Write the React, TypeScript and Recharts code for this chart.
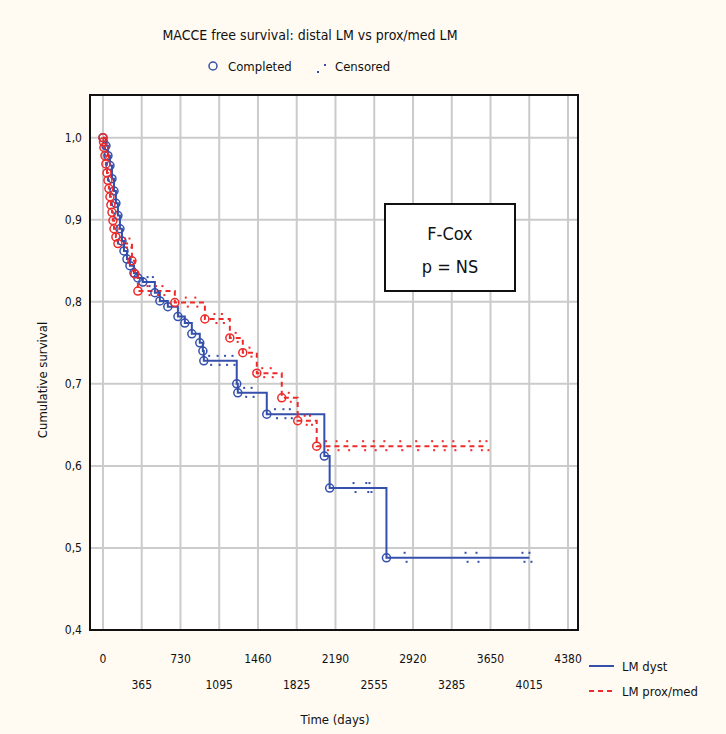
import React from 'react';
import { ComposedChart, Line, XAxis, YAxis, CartesianGrid } from 'recharts';

// LM dyst (blue): time in days, survival, marker kind (1 = completed/event, 0 = censored)
const dystTime = [0, 28, 47, 66, 85, 104, 122, 141, 160, 179, 198, 226, 254, 292, 329, 376, 420, 470, 489, 536, 611, 706, 771, 837, 912, 941, 950, 1000, 1080, 1150, 1220, 1260, 1270, 1330, 1400, 1543, 1620, 1700, 1760, 2085, 2135, 2360, 2480, 2510, 2670, 2841, 3415, 3518, 3951, 4017];
const dystSurv = [1.0, 0.99, 0.978, 0.966, 0.95, 0.935, 0.92, 0.905, 0.889, 0.874, 0.862, 0.852, 0.844, 0.835, 0.829, 0.824, 0.824, 0.824, 0.811, 0.801, 0.794, 0.782, 0.774, 0.761, 0.75, 0.74, 0.728, 0.728, 0.728, 0.728, 0.728, 0.7, 0.689, 0.689, 0.689, 0.663, 0.663, 0.663, 0.663, 0.612, 0.573, 0.573, 0.573, 0.573, 0.488, 0.488, 0.488, 0.488, 0.488, 0.488];
const dystKind = [1, 1, 1, 1, 1, 1, 1, 1, 1, 1, 1, 1, 1, 1, 1, 1, 0, 0, 1, 1, 1, 1, 1, 1, 1, 1, 1, 0, 0, 0, 0, 1, 1, 0, 0, 1, 0, 0, 0, 1, 1, 0, 0, 0, 1, 0, 0, 0, 0, 0];

// LM prox/med (red)
const proxTime = [0, 5, 9, 19, 28, 38, 47, 56, 66, 75, 85, 94, 104, 122, 141, 207, 250, 273, 301, 329, 420, 500, 560, 677, 780, 870, 960, 1050, 1120, 1195, 1250, 1317, 1380, 1449, 1500, 1580, 1684, 1750, 1834, 1900, 1950, 2013, 2100, 2200, 2300, 2450, 2550, 2650, 2800, 2950, 3100, 3200, 3300, 3450, 3550, 3612];
const proxSurv = [1.0, 0.995, 0.988, 0.978, 0.968, 0.957, 0.948, 0.938, 0.928, 0.918, 0.909, 0.899, 0.889, 0.879, 0.871, 0.871, 0.871, 0.85, 0.834, 0.813, 0.813, 0.813, 0.813, 0.799, 0.799, 0.799, 0.779, 0.779, 0.779, 0.756, 0.756, 0.738, 0.738, 0.713, 0.713, 0.713, 0.683, 0.683, 0.655, 0.655, 0.655, 0.624, 0.624, 0.624, 0.624, 0.624, 0.624, 0.624, 0.624, 0.624, 0.624, 0.624, 0.624, 0.624, 0.624, 0.624];
const proxKind = [1, 1, 1, 1, 1, 1, 1, 1, 1, 1, 1, 1, 1, 1, 1, 0, 0, 1, 1, 1, 0, 0, 0, 1, 0, 0, 1, 0, 0, 1, 0, 1, 0, 1, 0, 0, 1, 0, 1, 0, 0, 1, 0, 0, 0, 0, 0, 0, 0, 0, 0, 0, 0, 0, 0, 0];

const xTicks = [0, 365, 730, 1095, 1460, 1825, 2190, 2555, 2920, 3285, 3650, 4015, 4380];
const yTicks = [0.4, 0.5, 0.6, 0.7, 0.8, 0.9, 1.0];

const titleText = 'MACCE free survival: distal LM vs prox/med LM';
const seriesNames = ['LM dyst', 'LM prox/med'];

const BLUE = '#3450AC';
const RED = '#EE2A2A';
const FONT = '"Liberation Sans Narrow", "DejaVu Sans Condensed", "Arial Narrow", sans-serif';

const build = (t: number[], s: number[], k: number[]) => t.map((v, i) => ({ t: v, s: s[i], k: k[i] }));
const dystData = build(dystTime, dystSurv, dystKind);
const proxData = build(proxTime, proxSurv, proxKind);

const makeDot = (color: string) => (props: any) => {
  const { cx, cy, payload, index } = props;
  if (cx == null || cy == null || !payload) return <g key={`d${index}`} />;
  if (payload.k === 1) {
    return <circle key={`d${index}`} cx={cx} cy={cy} r={4} fill="none" stroke={color} strokeWidth={1.5} />;
  }
  return (
    <g key={`d${index}`}>
      <rect x={cx - 1} y={cy - 6} width={2} height={2} fill={color} />
      <rect x={cx + 1} y={cy + 3} width={2} height={2} fill={color} />
    </g>
  );
};

const XTick = (props: any) => {
  const { x, y, payload, index } = props;
  const row = index % 2 === 0 ? 0 : 1;
  return (
    <text x={x} y={y + (row === 0 ? 31 : 57)} textAnchor="middle" fontSize={12} fontFamily={FONT} fill="#111">
      {payload.value}
    </text>
  );
};

export default function App() {
  return (
    <div style={{ position: 'absolute', left: 0, top: 0, width: 726, height: 734, background: '#FFFBF3', overflow: 'hidden' }}>
      <ComposedChart
        width={726}
        height={734}
        margin={{ top: 95, right: 148, left: 0, bottom: 0 }}
      >
        <CartesianGrid stroke="#cbcbcb" strokeWidth={2} fill="#ffffff" />
        <XAxis
          type="number"
          dataKey="t"
          domain={[-122, 4474]}
          ticks={xTicks}
          allowDataOverflow
          height={104}
          axisLine={false}
          tickLine={false}
          tickSize={0}
          interval={0}
          tick={<XTick />}
        />
        <YAxis
          type="number"
          domain={[0.4, 1.052]}
          ticks={yTicks}
          allowDataOverflow
          width={90}
          axisLine={false}
          tickLine={false}
          tickSize={0}
          tickMargin={8}
          interval={0}
          tickFormatter={(v: number) => v.toFixed(1).replace('.', ',')}
          tick={{ fontSize: 12, fontFamily: FONT, fill: '#111' }}
        />
        <Line
          data={dystData}
          dataKey="s"
          type="stepAfter"
          stroke={BLUE}
          strokeWidth={2}
          dot={makeDot(BLUE)}
          activeDot={false}
          isAnimationActive={false}
          name={seriesNames[0]}
        />
        <Line
          data={proxData}
          dataKey="s"
          type="stepAfter"
          stroke={RED}
          strokeWidth={2}
          strokeDasharray="5 4"
          dot={makeDot(RED)}
          activeDot={false}
          isAnimationActive={false}
          name={seriesNames[1]}
        />
      </ComposedChart>
      <svg width={726} height={734} style={{ position: 'absolute', left: 0, top: 0, pointerEvents: 'none' }}>
        <rect x={90} y={95} width={488} height={535} fill="none" stroke="#111" strokeWidth={2} />
        <text x={310} y={40} textAnchor="middle" fontSize={14} fontFamily={FONT} fill="#111">{titleText}</text>
        <circle cx={213} cy={66} r={4} fill="none" stroke={BLUE} strokeWidth={1.5} />
        <text x={228} y={71} fontSize={13} fontFamily={FONT} fill="#111">Completed</text>
        <rect x={317} y={71} width={2} height={2} fill={BLUE} />
        <rect x={324} y={64} width={2} height={2} fill={BLUE} />
        <text x={335} y={71} fontSize={13} fontFamily={FONT} fill="#111">Censored</text>
        <rect x={385} y={204} width={130} height={87} fill="#fff" stroke="#111" strokeWidth={2} />
        <text x={450} y={240} textAnchor="middle" fontSize={18} fontFamily={FONT} fill="#111">F-Cox</text>
        <text x={450} y={273} textAnchor="middle" fontSize={18} fontFamily={FONT} fill="#111">p = NS</text>
        <text transform="translate(47,380) rotate(-90)" textAnchor="middle" fontSize={13} fontFamily={FONT} fill="#111">Cumulative survival</text>
        <text x={335} y={724} textAnchor="middle" fontSize={13} fontFamily={FONT} fill="#111">Time (days)</text>
        <line x1={589} y1={666} x2={614} y2={666} stroke={BLUE} strokeWidth={2} />
        <text x={622} y={671} fontSize={13} fontFamily={FONT} fill="#111">{seriesNames[0]}</text>
        <line x1={589} y1={691} x2={614} y2={691} stroke={RED} strokeWidth={2} strokeDasharray="5 4" />
        <text x={622} y={696} fontSize={13} fontFamily={FONT} fill="#111">{seriesNames[1]}</text>
      </svg>
    </div>
  );
}
